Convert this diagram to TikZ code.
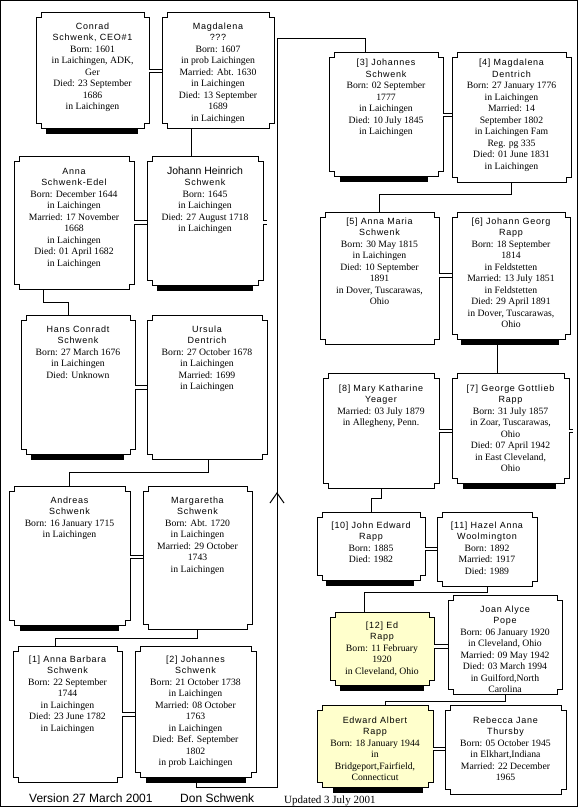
\documentclass[tikz,border=0pt]{standalone}
\usepackage{fontspec}
\setmainfont{Liberation Serif}
\newfontfamily\nmfont{Liberation Sans}[LetterSpace=8]
\newfontfamily\bgfont{Liberation Sans}
\definecolor{pale}{RGB}{255,255,204}
\newcommand\nm[1]{{\nmfont\fontsize{9}{11.5}\selectfont #1}}
\newcommand\fl[1]{\rule{0pt}{8pt}\nm{#1}}
\tikzset{
 boxnode/.style={inner sep=0pt, outer sep=0pt, anchor=north west, draw=none},
 txt/.style={inner sep=0pt, align=center, anchor=north, font=\fontsize{9.7}{11.5}\selectfont},
 boxline/.style={line width=1pt, draw=black},
 dbl/.style={double=white, double distance=2.5pt, line width=1pt},
 link/.style={line width=1pt},
}
\newcommand\person[8]{%
  \node[boxnode, minimum width={#5-#3}, minimum height={#6-#4}] (#1) at (#3,#4) {};
  \draw[boxline, fill=#2] ([shift={(5,0)}]#1.north west) -- ([shift={(-5,0)}]#1.north east) -- ([shift={(-5,5)}]#1.north east) -- ([shift={(0,5)}]#1.north east) -- ([shift={(0,-5)}]#1.south east) -- ([shift={(-5,-5)}]#1.south east) -- ([shift={(-5,0)}]#1.south east) -- ([shift={(5,0)}]#1.south west) -- ([shift={(5,-5)}]#1.south west) -- ([shift={(0,-5)}]#1.south west) -- ([shift={(0,5)}]#1.north west) -- ([shift={(5,5)}]#1.north west) -- cycle;
  \node[txt] (#1-t) at ([shift={(0,#7-8)}]#1.north) {#8};
}
\newcommand\shelf[3]{\fill ([shift={(#2,0)}]#1.south west) rectangle ([shift={(#3,5.5)}]#1.south west);}
\newcommand\wed[3]{\draw[dbl] ([shift={(0,#3)}]#1.north east) coordinate (#1-w) -- (#1-w -| #2.west);}
\begin{document}
\begin{tikzpicture}[x=1pt,y=-1pt]
\useasboundingbox (0,0) rectangle (580,809);
\draw[line width=1pt] (0.5,0.5) rectangle (577.5,806.5);

% connectors
\coordinate (ra) at (277,787);
\coordinate (rb) at (277,38);

\person{conrad}{white}{36}{12}{149}{128}{17}{\fl{Conrad}\\\nm{Schwenk, CEO\#1}\\Born: 1601\\in Laichingen, ADK,\\Ger\\Died: 23 September\\1686\\in Laichingen}
\person{magda}{white}{162}{12}{274}{128}{17}{\fl{Magdalena}\\\nm{???}\\Born: 1607\\in prob Laichingen\\Married: Abt. 1630\\in Laichingen\\Died: 13 September\\1689\\in Laichingen}
\person{anna}{white}{14}{156}{134}{289}{18}{\fl{Anna}\\\nm{Schwenk-Edel}\\Born: December 1644\\in Laichingen\\Married: 17 November\\1668\\in Laichingen\\Died: 01 April 1682\\in Laichingen}
\person{johannh}{white}{147}{156}{263}{285}{18}{\rule{0pt}{8pt}{\bgfont\fontsize{10.5}{11.5}\selectfont Johann Heinrich}\\\nm{Schwenk}\\Born: 1645\\in Laichingen\\Died: 27 August 1718\\in Laichingen}
\person{hans}{white}{21}{315}{135}{454}{17}{\fl{Hans Conradt}\\\nm{Schwenk}\\Born: 27 March 1676\\in Laichingen\\Died: Unknown}
\person{ursula}{white}{147}{315}{267}{459}{17}{\fl{Ursula}\\\nm{Dentrich}\\Born: 27 October 1678\\in Laichingen\\Married: 1699\\in Laichingen}
\person{andreas}{white}{9}{486}{130}{625}{17}{\fl{Andreas}\\\nm{Schwenk}\\Born: 16 January 1715\\in Laichingen}
\person{marg}{white}{143}{486}{252}{629}{17}{\fl{Margaretha}\\\nm{Schwenk}\\Born: Abt. 1720\\in Laichingen\\Married: 29 October\\1743\\in Laichingen}
\person{ab}{white}{13}{646}{122}{782}{16}{\fl{[1] Anna Barbara}\\\nm{Schwenk}\\Born: 22 September\\1744\\in Laichingen\\Died: 23 June 1782\\in Laichingen}
\person{jtwo}{white}{135}{646}{256}{777}{16}{\fl{[2] Johannes}\\\nm{Schwenk}\\Born: 21 October 1738\\in Laichingen\\Married: 08 October\\1763\\in Laichingen\\Died: Bef. September\\1802\\in prob Laichingen}
\person{jthree}{white}{329}{52}{443}{176}{13.5}{\fl{[3] Johannes}\\\nm{Schwenk}\\Born: 02 September\\1777\\in Laichingen\\Died: 10 July 1845\\in Laichingen}
\person{mfour}{white}{452}{52}{571}{182}{13.5}{\fl{[4] Magdalena}\\\nm{Dentrich}\\Born: 27 January 1776\\in Laichingen\\Married: 14\\September 1802\\in Laichingen Fam\\Reg. pg 335\\Died: 01 June 1831\\in Laichingen}
\person{amfive}{white}{320}{212}{439}{344}{12}{\fl{[5] Anna Maria}\\\nm{Schwenk}\\Born: 30 May 1815\\in Laichingen\\Died: 10 September\\1891\\in Dover, Tuscarawas,\\Ohio}
\person{jgsix}{white}{452}{212}{570}{339}{12}{\fl{[6] Johann Georg}\\\nm{Rapp}\\Born: 18 September\\1814\\in Feldstetten\\Married: 13 July 1851\\in Feldstetten\\Died: 29 April 1891\\in Dover, Tuscarawas,\\Ohio}
\person{mkeight}{white}{323}{373}{439}{488}{18}{\fl{[8] Mary Katharine}\\\nm{Yeager}\\Married: 03 July 1879\\in Allegheny, Penn.}
\person{ggseven}{white}{452}{373}{569}{483}{18}{\fl{[7] George Gottlieb}\\\nm{Rapp}\\Born: 31 July 1857\\in Zoar, Tuscarawas,\\Ohio\\Died: 07 April 1942\\in East Cleveland,\\Ohio}
\person{jeten}{white}{317}{512}{425}{580}{16}{\fl{[10] John Edward}\\\nm{Rapp}\\Born: 1885\\Died: 1982}
\person{haeleven}{white}{437}{512}{537}{586}{16}{\fl{[11] Hazel Anna}\\\nm{Woolmington}\\Born: 1892\\Married: 1917\\Died: 1989}
\person{edtwelve}{pale}{330}{612}{434}{685}{16}{\fl{[12] Ed}\\\nm{Rapp}\\Born: 11 February\\1920\\in Cleveland, Ohio}
\person{joan}{white}{448}{595}{562}{694}{17}{\fl{Joan Alyce}\\\nm{Pope}\\Born: 06 January 1920\\in Cleveland, Ohio\\Married: 09 May 1942\\Died: 03 March 1994\\in Guilford,North\\Carolina}
\person{edward}{pale}{317}{705}{433}{787}{18}{\fl{Edward Albert}\\\nm{Rapp}\\Born: 18 January 1944\\in\\Bridgeport,Fairfield,\\Connecticut}
\person{rebecca}{white}{445}{705}{566}{794}{18}{\fl{Rebecca Jane}\\\nm{Thursby}\\Born: 05 October 1945\\in Elkhart,Indiana\\Married: 22 December\\1965}

% parent-child connectors
\draw[link] ([shift={(29,0)}]magda.south west) -- ([shift={(44,0)}]johannh.north west);
\draw[link] ([shift={(29,0)}]anna.south west) -- ++(0,13) -| ([shift={(47,0)}]hans.north west);
\draw[link] ([shift={(61,0)}]ursula.south west) -- ++(0,13) -| ([shift={(60,0)}]andreas.north west);
\draw[link] ([shift={(54,0)}]marg.south west) -- ++(0,9) -| ([shift={(42,0)}]ab.north west);
\draw[link] ([shift={(61,0)}]jtwo.south west) |- (ra) -- (rb) -| ([shift={(36,0)}]jthree.north west);
\draw[link] (270,503) -- (277,493) -- (284,503);
\draw[link] ([shift={(59,0)}]mfour.south west) -- ++(0,12) -| ([shift={(59,0)}]amfive.north west);
\draw[link] ([shift={(45,0)}]jgsix.south west) -- ([shift={(45,0)}]ggseven.north west);
\draw[link] ([shift={(58,0)}]mkeight.south west) -- ++(0,10) -| ([shift={(54,0)}]jeten.north west);
\draw[link] ([shift={(50,0)}]haeleven.south west) -- ++(0,6) -| ([shift={(34,0)}]edtwelve.north west);
\draw[link] ([shift={(57,0)}]joan.south west) -- ++(0,7) -| ([shift={(68,0)}]edward.north west);

% marriages
\wed{conrad}{magda}{58.85}
\wed{anna}{johannh}{66.4}
\wed{hans}{ursula}{72.5}
\wed{andreas}{marg}{71}
\wed{ab}{jtwo}{68.5}
\wed{jthree}{mfour}{63}
\wed{amfive}{jgsix}{63.5}
\wed{mkeight}{ggseven}{58}
\wed{jeten}{haeleven}{37}
\wed{edtwelve}{joan}{34.5}
\wed{edward}{rebecca}{44}
\draw[dbl] ([shift={(0,66.5)}]johannh.north east) -- ++(4,0);
\draw[dbl] ([shift={(0,58)}]ggseven.north east) -- ++(4,0);

% descendant bars
\shelf{conrad}{10}{102}
\shelf{johannh}{10}{106}
\shelf{hans}{10}{103}
\shelf{andreas}{11}{110}
\shelf{jtwo}{11}{111}
\shelf{jthree}{11}{99}
\shelf{jgsix}{9}{107}
\shelf{ggseven}{11}{104}
\shelf{jeten}{9}{97}
\shelf{edtwelve}{10}{94}
\shelf{edward}{16}{106}

% footer
\node[anchor=base west, inner sep=0pt, font=\bgfont\fontsize{12}{14}\selectfont] (ver) at (29,802.5) {Version 27 March 2001};
\node[anchor=base west, inner sep=0pt, font=\bgfont\fontsize{12}{14}\selectfont] (author) at (180,802.5) {Don Schwenk};
\node[anchor=base west, inner sep=0pt, font=\fontsize{11}{13}\selectfont] (upd) at (284,803.5) {Updated 3 July 2001};
\end{tikzpicture}
\end{document}
